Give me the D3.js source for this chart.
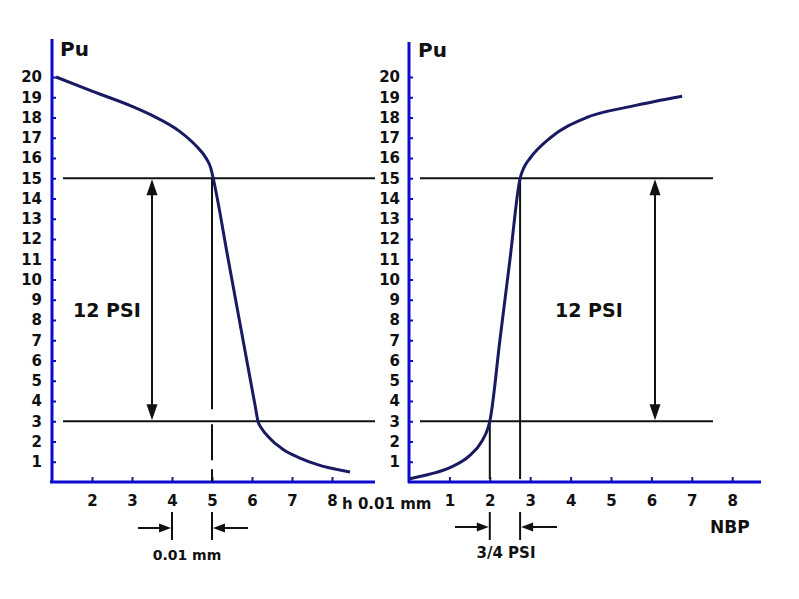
<!DOCTYPE html>
<html><head><meta charset="utf-8">
<script src="https://cdn.jsdelivr.net/npm/d3@7"></script>
<style>
body{margin:0;background:#fff}
text{font-family:"DejaVu Sans",sans-serif;font-weight:bold;fill:#111}
</style>
</head><body>
<svg id="c" width="799" height="599"></svg>
<script>
// ---- data ----
const yTicks = [1,2,3,4,5,6,7,8,9,10,11,12,13,14,15,16,17,18,19,20];
const leftXTicks = [2,3,4,5,6,7,8];
const rightXTicks = [1,2,3,4,5,6,7,8];
const leftCurveX = [1.1, 2, 3, 3.45, 4.2, 4.6, 4.85, 4.97, 5.03, 5.4, 5.8, 6.08, 6.15, 6.25, 6.4, 6.78, 7.2, 7.6, 8.45];
const leftCurveY = [20, 19.3, 18.55, 18.15, 17.3, 16.6, 16.0, 15.5, 15, 11.05, 6.75, 3.75, 3, 2.62, 2.25, 1.6, 1.18, 0.88, 0.49];
const rightCurveX = [0, 0.5, 1, 1.5, 1.8, 1.96, 2, 2.25, 2.5, 2.75, 2.85, 3.0, 3.5, 4.4, 5.5, 6.76];
const rightCurveY = [0.15, 0.38, 0.7, 1.3, 2.0, 2.7, 3, 7, 11, 15, 15.55, 16, 17, 18, 18.55, 19.05];
const levels = [3, 15];              // horizontal reference lines (Pu)
const leftMarks = [4, 5];            // bottom dimension marks, left chart
const rightMarks = [2, 2.75];        // bottom dimension marks, right chart
const leftCross = 5;                 // x where left curve crosses 15
const rightLow = 2, rightHigh = 2.75;

const svg = d3.select("#c");
const axisBlue = "#0b0bd0", curveCol = "#1a1a62", ink = "#111";

const y = d3.scaleLinear().domain([0, 20]).range([482, 77]);
const xL = d3.scaleLinear().domain([1, 9.075]).range([52, 375]);
const xR = d3.scaleLinear().domain([0, 8.713]).range([409, 761]);

function tri(g, x, yy, dir, len, w) {
  let p;
  if (dir === "up") p = [[x, yy], [x - w/2, yy + len], [x + w/2, yy + len]];
  if (dir === "down") p = [[x, yy], [x - w/2, yy - len], [x + w/2, yy - len]];
  if (dir === "right") p = [[x, yy], [x - len, yy - w/2], [x - len, yy + w/2]];
  if (dir === "left") p = [[x, yy], [x + len, yy - w/2], [x + len, yy + w/2]];
  g.append("path").attr("d", "M" + p.map(d => d.join(",")).join("L") + "Z").attr("fill", ink);
}

function panel(x, xTicks, axisX, axisTopY, xAxisStart, xAxisEnd, labelPad) {
  const g = svg.append("g");
  const ya = g.append("g").attr("transform", `translate(${axisX},0)`)
    .call(d3.axisLeft(y).tickValues(yTicks).tickSizeInner(-4).tickSizeOuter(0).tickPadding(labelPad));
  ya.select(".domain").remove();
  ya.selectAll("line").attr("stroke", axisBlue).attr("stroke-width", 2);
  ya.selectAll("text").attr("font-size", 15).attr("font-family", "DejaVu Sans").attr("font-weight", "bold").attr("fill", ink);
  g.append("line").attr("x1", axisX).attr("x2", axisX).attr("y1", axisTopY).attr("y2", y(0) + 1)
    .attr("stroke", axisBlue).attr("stroke-width", 3);
  const xa = g.append("g").attr("transform", `translate(0,${y(0)})`)
    .call(d3.axisBottom(x).tickValues(xTicks).tickSizeInner(-5).tickSizeOuter(0).tickPadding(13));
  xa.select(".domain").remove();
  xa.selectAll("line").attr("stroke", "#1a1a80").attr("stroke-width", 2);
  xa.selectAll("text").attr("font-size", 15).attr("font-family", "DejaVu Sans").attr("font-weight", "bold").attr("fill", ink);
  g.append("line").attr("x1", xAxisStart).attr("x2", xAxisEnd).attr("y1", y(0)).attr("y2", y(0))
    .attr("stroke", axisBlue).attr("stroke-width", 3);
  return g;
}

// ---- left chart ----
const gL = panel(xL, leftXTicks, 52, 39, 50, 375, 10);
gL.append("text").attr("x", 60).attr("y", 56).attr("font-size", 20).text("Pu");
levels.forEach(v => gL.append("line").attr("x1", 63).attr("x2", 375).attr("y1", y(v)).attr("y2", y(v))
  .attr("stroke", ink).attr("stroke-width", 2));
gL.append("line").attr("x1", xL(leftCross)).attr("x2", xL(leftCross)).attr("y1", y(15)).attr("y2", y(0))
  .attr("stroke", ink).attr("stroke-width", 2).attr("stroke-dasharray", "231 15 36 9 400");
const lineL = d3.line().x(d => xL(d[0])).y(d => y(d[1])).curve(d3.curveMonotoneX);
gL.append("path").attr("d", lineL(leftCurveX.map((v, i) => [v, leftCurveY[i]])))
  .attr("fill", "none").attr("stroke", curveCol).attr("stroke-width", 3);
gL.append("line").attr("x1", 152).attr("x2", 152).attr("y1", y(15) + 10).attr("y2", y(3) - 10)
  .attr("stroke", ink).attr("stroke-width", 2);
tri(gL, 152, y(15) + 1, "up", 16, 11);
tri(gL, 152, y(3) - 1, "down", 16, 11);
gL.append("text").attr("x", 73).attr("y", 317).attr("font-size", 19).text("12 PSI");
leftMarks.forEach(v => gL.append("line").attr("x1", xL(v)).attr("x2", xL(v)).attr("y1", 512).attr("y2", 540)
  .attr("stroke", ink).attr("stroke-width", 2));
gL.append("line").attr("x1", 138).attr("x2", xL(leftMarks[0]) - 6).attr("y1", 528).attr("y2", 528).attr("stroke", ink).attr("stroke-width", 2);
tri(gL, xL(leftMarks[0]) - 1, 528, "right", 12, 9);
gL.append("line").attr("x1", 248).attr("x2", xL(leftMarks[1]) + 6).attr("y1", 528).attr("y2", 528).attr("stroke", ink).attr("stroke-width", 2);
tri(gL, xL(leftMarks[1]) + 1, 528, "left", 12, 9);
gL.append("text").attr("x", 187).attr("y", 560).attr("text-anchor", "middle").attr("font-size", 14).text("0.01 mm");
gL.append("text").attr("x", 342).attr("y", 509).attr("font-size", 15).text("h 0.01 mm");

// ---- right chart ----
const gR = panel(xR, rightXTicks, 409, 42, 408, 761, 9);
gR.append("text").attr("x", 418).attr("y", 57).attr("font-size", 20).text("Pu");
levels.forEach(v => gR.append("line").attr("x1", 420).attr("x2", 713).attr("y1", y(v)).attr("y2", y(v))
  .attr("stroke", ink).attr("stroke-width", 2));
gR.append("line").attr("x1", xR(rightLow)).attr("x2", xR(rightLow)).attr("y1", y(3)).attr("y2", y(0) - 3)
  .attr("stroke", ink).attr("stroke-width", 2);
gR.append("line").attr("x1", xR(rightHigh)).attr("x2", xR(rightHigh)).attr("y1", y(15)).attr("y2", y(0) - 3)
  .attr("stroke", ink).attr("stroke-width", 2);
const lineR = d3.line().x(d => xR(d[0])).y(d => y(d[1])).curve(d3.curveMonotoneX);
gR.append("path").attr("d", lineR(rightCurveX.map((v, i) => [v, rightCurveY[i]])))
  .attr("fill", "none").attr("stroke", curveCol).attr("stroke-width", 3);
gR.append("line").attr("x1", 655).attr("x2", 655).attr("y1", y(15) + 10).attr("y2", y(3) - 10)
  .attr("stroke", ink).attr("stroke-width", 2);
tri(gR, 655, y(15) + 1, "up", 16, 11);
tri(gR, 655, y(3) - 1, "down", 16, 11);
gR.append("text").attr("x", 555).attr("y", 317).attr("font-size", 19).text("12 PSI");
rightMarks.forEach(v => gR.append("line").attr("x1", xR(v)).attr("x2", xR(v)).attr("y1", 512).attr("y2", 540)
  .attr("stroke", ink).attr("stroke-width", 2));
gR.append("line").attr("x1", 455).attr("x2", xR(rightMarks[0]) - 6).attr("y1", 527).attr("y2", 527).attr("stroke", ink).attr("stroke-width", 2);
tri(gR, xR(rightMarks[0]) - 1, 527, "right", 12, 9);
gR.append("line").attr("x1", 557).attr("x2", xR(rightMarks[1]) + 6).attr("y1", 527).attr("y2", 527).attr("stroke", ink).attr("stroke-width", 2);
tri(gR, xR(rightMarks[1]) + 1, 527, "left", 12, 9);
gR.append("text").attr("x", 506).attr("y", 558).attr("text-anchor", "middle").attr("font-size", 15).text("3/4 PSI");
gR.append("text").attr("x", 710).attr("y", 533).attr("font-size", 17).text("NBP");
</script>
</body></html>
